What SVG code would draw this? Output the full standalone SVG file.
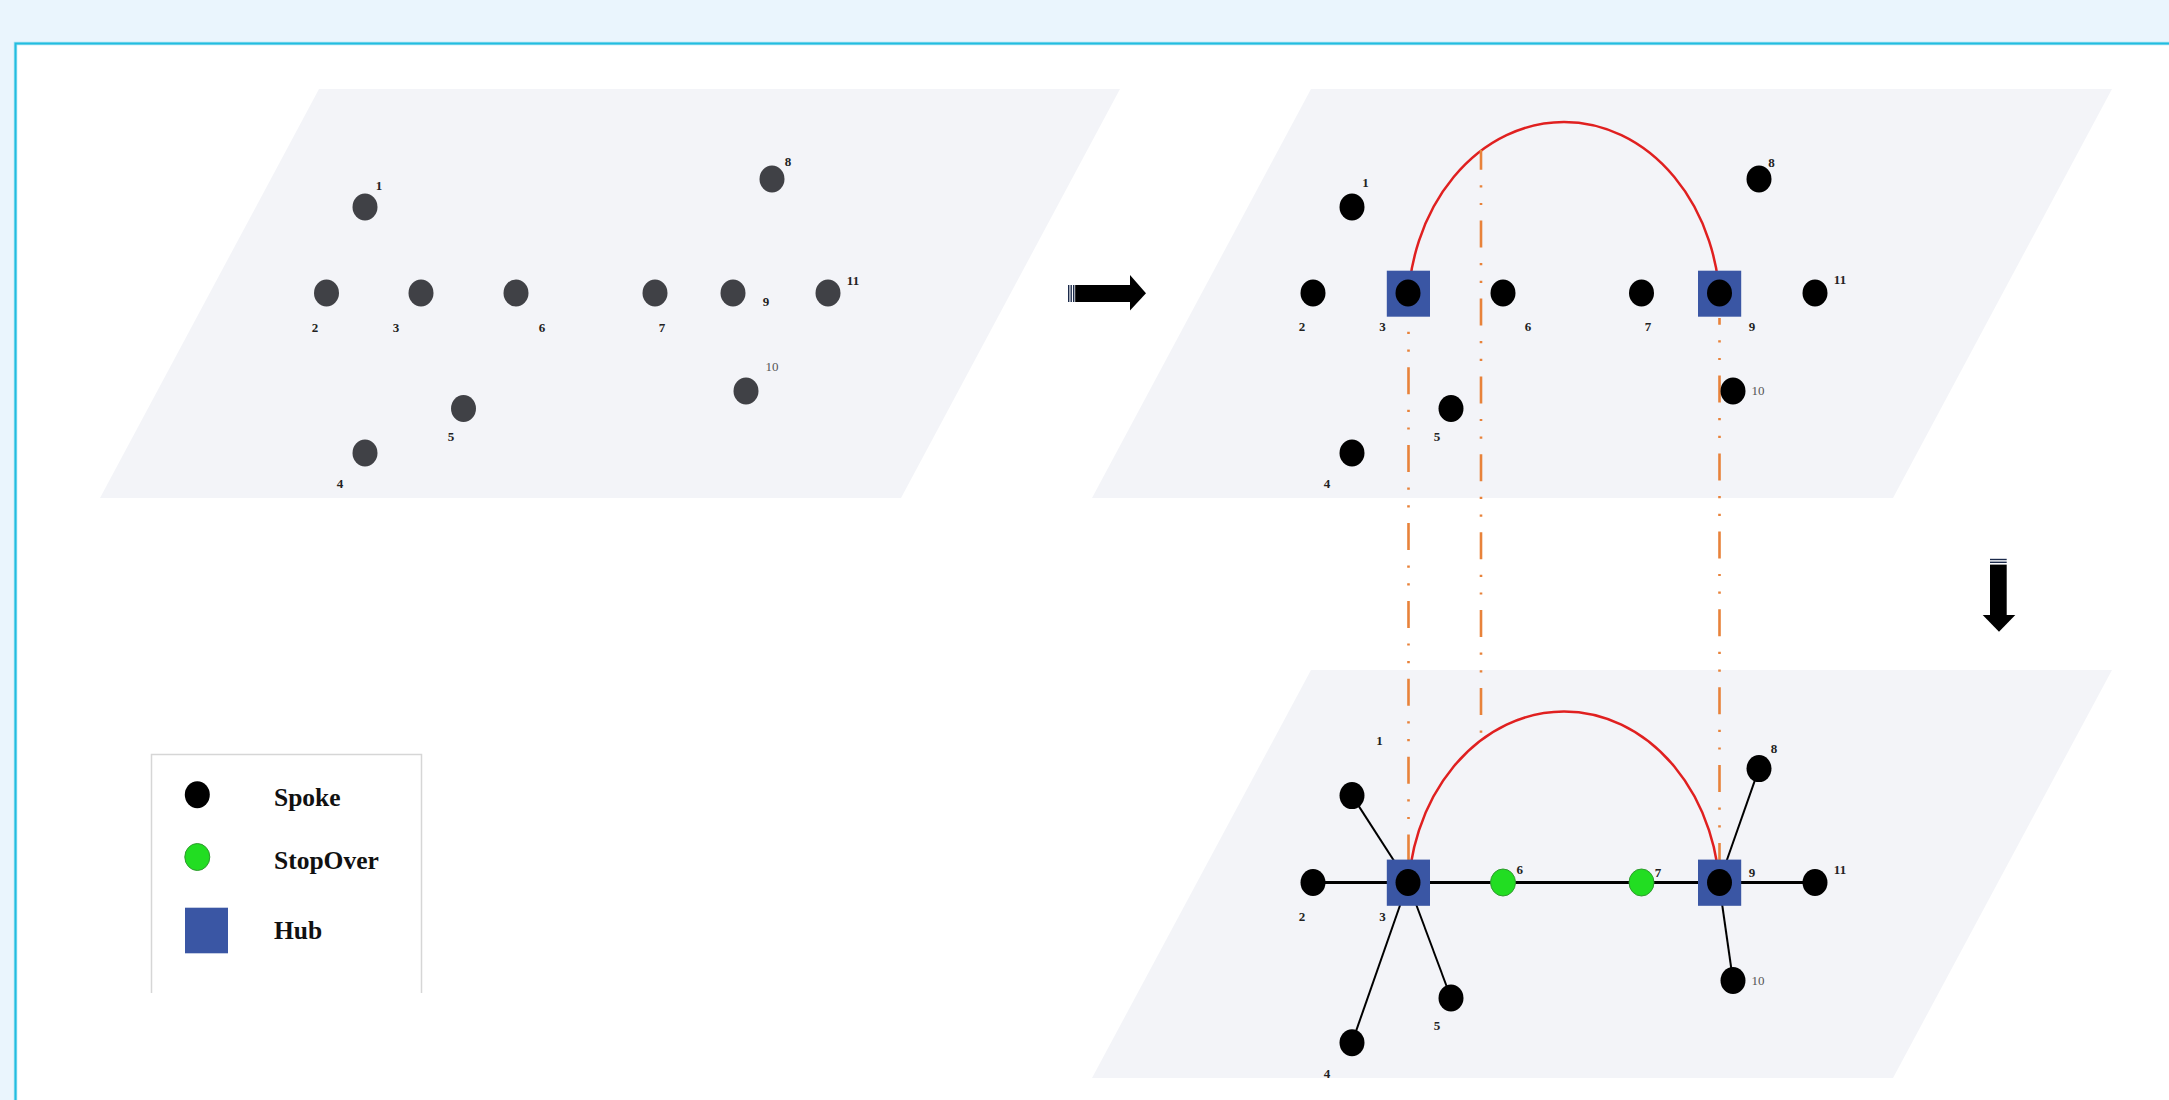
<svg xmlns="http://www.w3.org/2000/svg" width="2169" height="1100" viewBox="0 0 2169 1100">
<defs>
<style>
.plane{fill:#f3f4f8;}
.n1{fill:#404146;}
.n{fill:#000;}
.so{fill:#22dd22;stroke:#2f9a2f;stroke-width:1;}
.hub{fill:#3a56a4;}
.lbl{font-family:"Liberation Serif","Times New Roman",serif;font-size:13px;font-weight:bold;fill:#222;text-anchor:middle;}
.lbl.l{font-weight:normal;fill:#555;}
.leg{font-family:"Liberation Serif","Times New Roman",serif;font-size:25.5px;font-weight:bold;fill:#111;}
.arc{fill:none;stroke:#e02020;stroke-width:2.5;}
.proj{fill:none;stroke:#e8823a;stroke-width:2.6;stroke-dasharray:27 15.5 2.2 15.5 2.2 15.5;}
.edge{stroke:#000;stroke-width:2;}
.edgeh{stroke:#000;stroke-width:3;}
</style>
</defs>
<rect x="0" y="0" width="2169" height="1100" fill="#eaf5fd"/>
<rect x="16" y="44" width="2153" height="1056" fill="#ffffff"/>
<path d="M15.5,1100 V43.5 H2169" fill="none" stroke="#a8e2f2" stroke-width="3.5"/>
<path d="M15.5,1100 V43.5 H2169" fill="none" stroke="#22bde0" stroke-width="2"/>

<g id="plane1"><polygon class="plane" points="319,89 1120,89 901,498 100,498"/></g>
<g id="plane2"><polygon class="plane" points="1311,89 2112,89 1893,498 1092,498"/></g>
<g id="plane3"><polygon class="plane" points="1311,670 2112,670 1893,1078 1092,1078"/></g>

<g id="legend">
<path d="M151.5,993 V754.5 H421.5 V993" fill="none" stroke="#d6d6d6" stroke-width="1.5"/>
<ellipse cx="197.3" cy="794.7" rx="12.5" ry="13.5" fill="#000"/>
<text class="leg" x="274" y="806">Spoke</text>
<ellipse class="so" cx="197.3" cy="857" rx="12.5" ry="13.5"/>
<text class="leg" x="274" y="869">StopOver</text>
<rect class="hub" x="185" y="907.7" width="43" height="45.6"/>
<text class="leg" x="274" y="939">Hub</text>
</g>

<g id="connectors">
<path class="arc" d="M1408,310 A156,188 0 0 1 1720,310"/>
<path class="arc" d="M1408,899.5 A156,188 0 0 1 1720,899.5"/>
<line class="proj" x1="1408.5" y1="318" x2="1408.5" y2="860" stroke-dashoffset="28.7"/>
<line class="proj" x1="1481" y1="150" x2="1481" y2="738" stroke-dashoffset="7.3"/>
<line class="proj" x1="1719.5" y1="318" x2="1719.5" y2="860" stroke-dashoffset="20.3"/>
<line class="edgeh" x1="1313" y1="882.5" x2="1815" y2="882.5"/>
<line class="edge" x1="1408" y1="882.5" x2="1352" y2="795.6"/>
<line class="edge" x1="1408" y1="882.5" x2="1352" y2="1042.7"/>
<line class="edge" x1="1408" y1="882.5" x2="1451" y2="998"/>
<line class="edge" x1="1719" y1="882.5" x2="1759" y2="768.6"/>
<line class="edge" x1="1719" y1="882.5" x2="1733" y2="980.5"/>
</g>

<g id="arrow-right">
<rect x="1068" y="285" width="1.4" height="17" fill="#1b2a4a"/>
<rect x="1070.5" y="285" width="1.4" height="17" fill="#1b2a4a"/>
<rect x="1073" y="285" width="1.4" height="17" fill="#1b2a4a"/>
<rect x="1075.2" y="285" width="55" height="17" fill="#000"/>
<polygon points="1130,275 1146,293.3 1130,310.5" fill="#000"/>
</g>
<g id="arrow-down">
<rect x="1990" y="558.8" width="16.7" height="1.4" fill="#1b2a4a"/>
<rect x="1990" y="561.6" width="16.7" height="1.4" fill="#1b2a4a"/>
<rect x="1990" y="564.6" width="16.7" height="51" fill="#000"/>
<polygon points="1982.7,615 2015.3,615 1999,631.7" fill="#000"/>
</g>

<g id="panel1-nodes">
<g id="p1n1"><ellipse class="n1" cx="365" cy="207" rx="12.5" ry="13.5"/><text class="lbl" x="379" y="190">1</text></g>
<g id="p1n2"><ellipse class="n1" cx="326.5" cy="293" rx="12.5" ry="13.5"/><text class="lbl" x="315" y="332">2</text></g>
<g id="p1n3"><ellipse class="n1" cx="421" cy="293" rx="12.5" ry="13.5"/><text class="lbl" x="396" y="332">3</text></g>
<g id="p1n6"><ellipse class="n1" cx="516" cy="293" rx="12.5" ry="13.5"/><text class="lbl" x="542" y="332">6</text></g>
<g id="p1n7"><ellipse class="n1" cx="655" cy="293" rx="12.5" ry="13.5"/><text class="lbl" x="662" y="332">7</text></g>
<g id="p1n9"><ellipse class="n1" cx="733" cy="293" rx="12.5" ry="13.5"/><text class="lbl" x="766" y="306">9</text></g>
<g id="p1n11"><ellipse class="n1" cx="828" cy="293" rx="12.5" ry="13.5"/><text class="lbl" x="853" y="285">11</text></g>
<g id="p1n8"><ellipse class="n1" cx="772" cy="179" rx="12.5" ry="13.5"/><text class="lbl" x="788" y="166">8</text></g>
<g id="p1n10"><ellipse class="n1" cx="746" cy="391" rx="12.5" ry="13.5"/><text class="lbl l" x="772" y="371">10</text></g>
<g id="p1n5"><ellipse class="n1" cx="463.5" cy="408.5" rx="12.5" ry="13.5"/><text class="lbl" x="451" y="441">5</text></g>
<g id="p1n4"><ellipse class="n1" cx="365" cy="453" rx="12.5" ry="13.5"/><text class="lbl" x="340" y="488">4</text></g>
</g>

<g id="panel2-nodes">
<g id="p2n1"><ellipse class="n" cx="1352" cy="207" rx="12.5" ry="13.5"/><text class="lbl" x="1365.5" y="187">1</text></g>
<g id="p2n2"><ellipse class="n" cx="1313" cy="293" rx="12.5" ry="13.5"/><text class="lbl" x="1302" y="331">2</text></g>
<g id="p2n3"><rect class="hub" x="1386.8" y="270.7" width="43.2" height="46"/><ellipse class="n" cx="1408" cy="293" rx="12.5" ry="13.5"/><text class="lbl" x="1382.5" y="331">3</text></g>
<g id="p2n6"><ellipse class="n" cx="1503" cy="293" rx="12.5" ry="13.5"/><text class="lbl" x="1528" y="331">6</text></g>
<g id="p2n7"><ellipse class="n" cx="1641.5" cy="293" rx="12.5" ry="13.5"/><text class="lbl" x="1648" y="331">7</text></g>
<g id="p2n9"><rect class="hub" x="1698" y="270.7" width="43.2" height="46"/><ellipse class="n" cx="1719.5" cy="293" rx="12.5" ry="13.5"/><text class="lbl" x="1752" y="331">9</text></g>
<g id="p2n11"><ellipse class="n" cx="1815" cy="293" rx="12.5" ry="13.5"/><text class="lbl" x="1840" y="284">11</text></g>
<g id="p2n8"><ellipse class="n" cx="1759" cy="179" rx="12.5" ry="13.5"/><text class="lbl" x="1771.5" y="167">8</text></g>
<g id="p2n10"><ellipse class="n" cx="1733" cy="391" rx="12.5" ry="13.5"/><text class="lbl l" x="1758" y="395">10</text></g>
<g id="p2n5"><ellipse class="n" cx="1451" cy="408.5" rx="12.5" ry="13.5"/><text class="lbl" x="1437" y="441">5</text></g>
<g id="p2n4"><ellipse class="n" cx="1352" cy="453" rx="12.5" ry="13.5"/><text class="lbl" x="1327" y="488">4</text></g>
</g>

<g id="panel3-nodes">
<g id="p3n1"><ellipse class="n" cx="1352" cy="795.6" rx="12.5" ry="13.5"/><text class="lbl" x="1379.6" y="745">1</text></g>
<g id="p3n2"><ellipse class="n" cx="1313" cy="882.5" rx="12.5" ry="13.5"/><text class="lbl" x="1302" y="921">2</text></g>
<g id="p3n3"><rect class="hub" x="1386.8" y="859.6" width="43.2" height="46.2"/><ellipse class="n" cx="1408" cy="882.5" rx="12.5" ry="13.5"/><text class="lbl" x="1382.5" y="921">3</text></g>
<g id="p3n6"><ellipse class="so" cx="1503" cy="882.5" rx="12.5" ry="13.5"/><text class="lbl" x="1519.7" y="874">6</text></g>
<g id="p3n7"><ellipse class="so" cx="1641.5" cy="882.5" rx="12.5" ry="13.5"/><text class="lbl" x="1658" y="877">7</text></g>
<g id="p3n9"><rect class="hub" x="1698" y="859.6" width="43.2" height="46.2"/><ellipse class="n" cx="1719.5" cy="882.5" rx="12.5" ry="13.5"/><text class="lbl" x="1752" y="877">9</text></g>
<g id="p3n11"><ellipse class="n" cx="1815" cy="882.5" rx="12.5" ry="13.5"/><text class="lbl" x="1840" y="874">11</text></g>
<g id="p3n8"><ellipse class="n" cx="1759" cy="768.6" rx="12.5" ry="13.5"/><text class="lbl" x="1774" y="753">8</text></g>
<g id="p3n10"><ellipse class="n" cx="1733" cy="980.5" rx="12.5" ry="13.5"/><text class="lbl l" x="1758" y="984.5">10</text></g>
<g id="p3n5"><ellipse class="n" cx="1451" cy="998" rx="12.5" ry="13.5"/><text class="lbl" x="1437" y="1030">5</text></g>
<g id="p3n4"><ellipse class="n" cx="1352" cy="1042.7" rx="12.5" ry="13.5"/><text class="lbl" x="1327" y="1078">4</text></g>
</g>
</svg>
